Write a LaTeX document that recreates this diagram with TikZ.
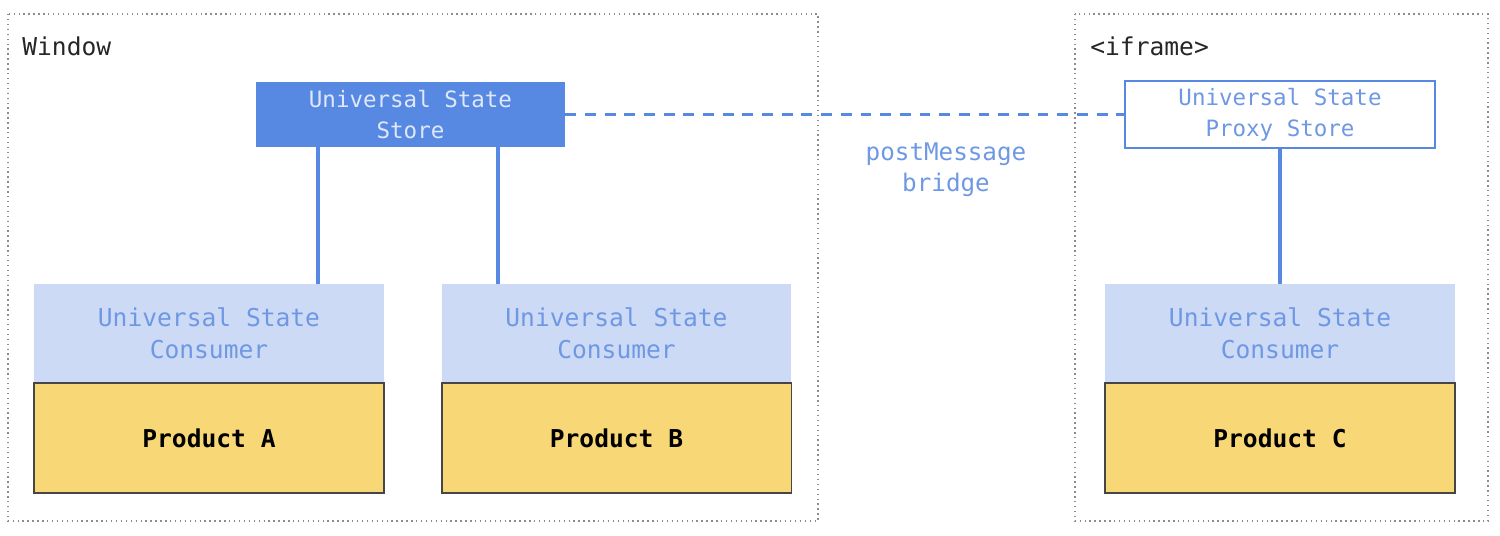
\documentclass[tikz,border=0pt]{standalone}
\usepackage{fontspec}
\setmonofont{DejaVu Sans Mono}
\definecolor{storeblue}{RGB}{88,137,226}
\definecolor{storetext}{RGB}{222,232,250}
\definecolor{consfill}{RGB}{204,218,245}
\definecolor{constext}{RGB}{110,152,228}
\definecolor{prodfill}{RGB}{248,215,118}
\definecolor{prodline}{RGB}{70,70,70}
\definecolor{framegray}{RGB}{140,140,140}
\begin{document}
\begin{tikzpicture}[x=0.02cm,y=-0.02cm,
  txt/.style={font=\ttfamily\fontsize{14pt}{18pt}\selectfont, align=center, inner sep=0pt},
  frame/.style={draw=framegray, dotted, line width=0.8pt},
  framelabel/.style={txt, text=black!85, anchor=west},
  storebox/.style={txt, font=\ttfamily\fontsize{12.8pt}{17.6pt}\selectfont, fill=storeblue, text=storetext, minimum width=6.18cm, minimum height=1.3cm},
  proxybox/.style={txt, font=\ttfamily\fontsize{12.8pt}{17.6pt}\selectfont, draw=storeblue, line width=0.9pt, fill=white, text=constext, minimum width=6.2cm, minimum height=1.34cm},
  consbox/.style={txt, fill=consfill, text=constext, minimum width=7cm, minimum height=1.98cm},
  prodbox/.style={txt, font=\ttfamily\bfseries\fontsize{14pt}{18pt}\selectfont, fill=prodfill, draw=prodline, line width=1.1pt, text=black, minimum width=7cm, minimum height=2.2cm},
  link/.style={draw=storeblue, line width=2.4pt},
  bridge/.style={draw=storeblue, line width=1.6pt, dash pattern=on 6.2pt off 5pt}
]
\useasboundingbox (0,0) rectangle (1500,535);
% frames
\draw[frame] (8,14) rectangle (818,521);
\draw[frame] (1075,14) rectangle (1488,521);
\node[framelabel] (winlbl) at (22,46) {Window};
\node[framelabel] (ifrlbl) at (1090,46) {<iframe>};
% nodes
\node[storebox] (store) at (410.5,114.5) {Universal State\\Store};
\node[proxybox] (proxy) at (1280,114.5) {Universal State\\Proxy Store};
\node[consbox] (consA) at (209,333.5) {Universal State\\Consumer};
\node[prodbox] (prodA) at (209,438) {Product A};
\node[consbox] (consB) at (616.5,333.5) {Universal State\\Consumer};
\node[prodbox] (prodB) at (616.5,438) {Product B};
\node[consbox] (consC) at (1280,333.5) {Universal State\\Consumer};
\node[prodbox] (prodC) at (1280,438) {Product C};
\node[txt, text=constext, font=\ttfamily\fontsize{13.8pt}{17.6pt}\selectfont] (bridgelbl) at (946,169.5) {postMessage\\bridge};
% connectors
\draw[link] (store.south -| 318,0) -- (consA.north -| 318,0);
\draw[link] (store.south -| 498,0) -- (consB.north -| 498,0);
\draw[link] (proxy.south) -- (consC.north);
\draw[bridge] (store.east) -- (proxy.west);
\end{tikzpicture}
\end{document}
